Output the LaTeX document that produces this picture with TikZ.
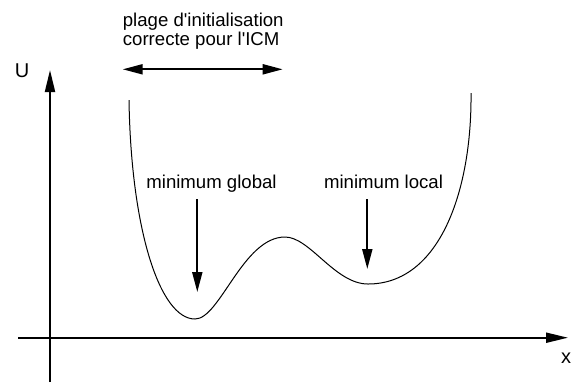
\documentclass[tikz,border=0pt]{standalone}
\usepackage{fontspec}
\setmainfont{Liberation Sans}
\usetikzlibrary{arrows.meta}

\begin{document}
\begin{tikzpicture}[
    x=0.5pt, y=-0.5pt,
    % Textes (étiquettes)
    texte/.style={
        font=\fontsize{9.3}{8.4}\selectfont,
        inner sep=0pt,
        align=left
    },
    axelabel/.style={
        font=\fontsize{10}{12}\selectfont,
        inner sep=0pt
    },
    % Flèches
    fleche/.style={line width=1pt, -{Triangle[length=10pt,width=5pt]}},
    double/.style={line width=1pt, {Triangle[length=10pt,width=5pt]}-{Triangle[length=10pt,width=5pt]}},
    axe/.style={line width=1pt, -{Triangle[length=11pt,width=5pt]}},
    courbe/.style={line width=0.5pt}
]
\useasboundingbox (0,0) rectangle (572,382);

% ---- AXES ----
\coordinate (bas_u)    at (50,382);
\coordinate (haut_u)   at (50,70);
\coordinate (gauche_x) at (18,337.7);
\coordinate (droite_x) at (568,337.7);

\draw[axe] (bas_u) -- (haut_u);
\draw[axe] (gauche_x) -- (droite_x);

\node[axelabel] (lab_u) at (22,71) {U};
\node[axelabel] (lab_x) at (566,358) {x};

% ---- ÉNERGIE U(x) ----
\coordinate (bord_g)  at (129,100);
\coordinate (min_g)   at (195,319);
\coordinate (sommet)  at (285,237);
\coordinate (min_l)   at (368,284);
\coordinate (bord_d)  at (471,93);

\draw[courbe] (bord_g)
    .. controls (131,230) and (160,319) .. (min_g)
    .. controls (220,319) and (243,237) .. (sommet)
    .. controls (310,237) and (335,284) .. (min_l)
    .. controls (440,284) and (472,190) .. (bord_d);

% ---- PLAGE D'INITIALISATION ----
\node[texte, anchor=north west] (plage) at (122.5,12.7)
    {plage d\textquotesingle initialisation\\correcte pour l\textquotesingle ICM};

\coordinate (plage_g) at (122.7,69.3);
\coordinate (plage_d) at (282.7,69.3);
\draw[double] (plage_g) -- (plage_d);

% ---- MINIMA ----
\node[texte, anchor=base] (glob) at (211.5,188) {minimum global};
\node[texte, anchor=base] (loc)  at (383.5,188) {minimum local};

\coordinate (glob_h) at (197.3,199);
\coordinate (glob_b) at (197.3,292);
\draw[fleche] (glob_h) -- (glob_b);

\coordinate (loc_h) at (367.3,199);
\coordinate (loc_b) at (367.3,269);
\draw[fleche] (loc_h) -- (loc_b);

\end{tikzpicture}
\end{document}
